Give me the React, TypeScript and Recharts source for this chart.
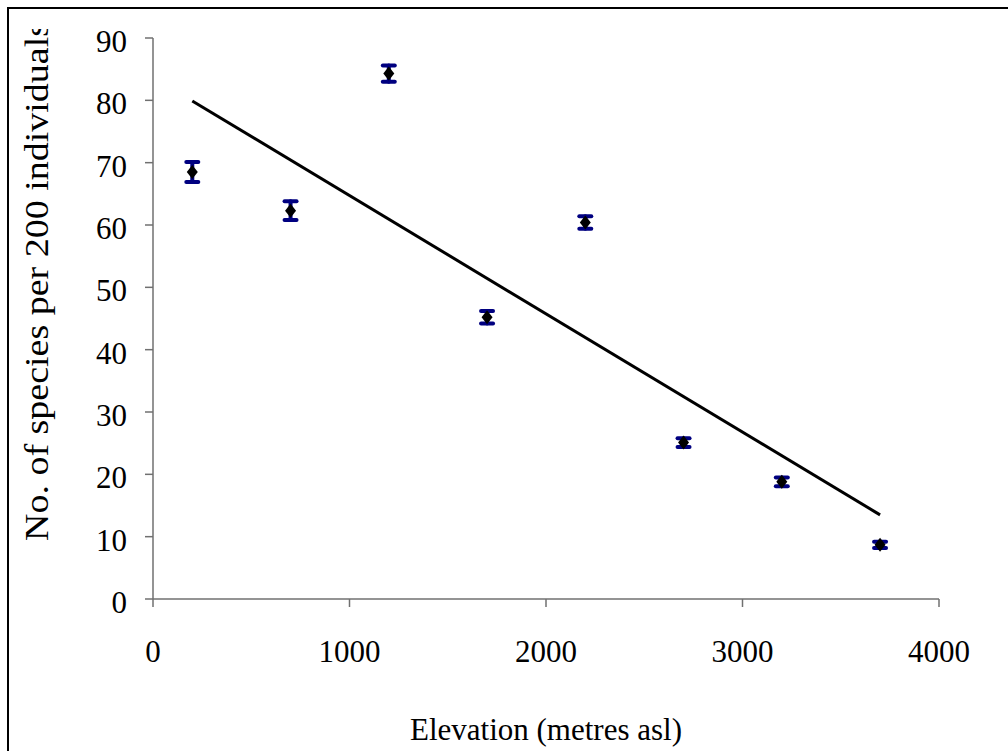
import React from "react";
import { ScatterChart, Scatter, XAxis, YAxis, ErrorBar } from "recharts";

const elevations = [200, 700, 1200, 1700, 2200, 2700, 3200, 3700];
const species = [68.5, 62.3, 84.3, 45.2, 60.4, 25.1, 18.8, 8.7];
const errors = [1.6, 1.5, 1.3, 1.0, 1.0, 0.7, 0.7, 0.5];
const trendX = [200, 3700];
const trendY = [79.9, 13.5];
const xTicks = [0, 1000, 2000, 3000, 4000];
const yTicks = [0, 10, 20, 30, 40, 50, 60, 70, 80, 90];

const points = elevations.map((x, i) => ({ x, y: species[i], err: errors[i] }));
const trend = trendX.map((x, i) => ({ x, y: trendY[i] }));

const FONT = '"Liberation Serif", "Times New Roman", serif';
const FS = 31;

const Diamond = (props: any) => {
  const { cx, cy } = props;
  if (cx == null || cy == null) return <g />;
  return (
    <polygon
      points={`${cx - 5.5},${cy} ${cx},${cy - 7} ${cx + 5.5},${cy} ${cx},${cy + 7}`}
      fill="#000"
    />
  );
};

const XTick = (props: any) => {
  const { x, y, payload } = props;
  return (
    <text x={x} y={y + 55} textAnchor="middle" fontFamily={FONT} fontSize={FS} fill="#000">
      {payload.value}
    </text>
  );
};

const YTick = (props: any) => {
  const { x, y, payload } = props;
  return (
    <text x={x} y={y + 14} textAnchor="end" fontFamily={FONT} fontSize={FS} fill="#000">
      {payload.value}
    </text>
  );
};

const XTitle = (props: any) => {
  const vb = props.viewBox || {};
  return (
    <text x={vb.x + vb.width / 2} y={740} textAnchor="middle" fontFamily={FONT} fontSize={FS} fill="#000">
      Elevation (metres asl)
    </text>
  );
};

const YTitle = () => {
  const px = 48;
  const py = 541;
  return (
    <g>
      <defs>
        <clipPath id="ytitleclip">
          <rect x={0} y={29} width={150} height={700} />
        </clipPath>
      </defs>
      <g clipPath="url(#ytitleclip)">
        <text
          x={0}
          y={0}
          transform={`translate(${px}, ${py}) rotate(-90) scale(1, 0.86)`}
          textAnchor="start"
          fontFamily={FONT}
          fontSize={38}
          fill="#000"
        >
          No. of species per 200 individuals
        </text>
      </g>
    </g>
  );
};

export default function App() {
  return (
    <div style={{ position: "fixed", left: 0, top: 0, width: 1008, height: 751, overflow: "hidden", background: "#fff" }}>
      <div
        style={{
          position: "absolute",
          left: 7,
          top: 7,
          width: 1100,
          height: 900,
          border: "2px solid #000",
        }}
      />
      <div style={{ position: "absolute", left: 0, top: 0 }}>
        <ScatterChart width={1008} height={751} margin={{ top: 38, right: 69, bottom: 0, left: 53 }}>
          <XAxis
            type="number"
            dataKey="x"
            domain={[0, 4000]}
            ticks={xTicks}
            interval={0}
            height={152}
            tickSize={8}
            tickMargin={0}
            stroke="#707070"
            strokeWidth={1.5}
            tick={<XTick />}
            label={<XTitle />}
          />
          <YAxis
            type="number"
            dataKey="y"
            domain={[0, 90]}
            ticks={yTicks}
            interval={0}
            width={100}
            tickSize={8}
            tickMargin={18}
            stroke="#707070"
            strokeWidth={1.5}
            tick={<YTick />}
            label={<YTitle />}
          />
          <Scatter
            data={trend}
            line={{ stroke: "#000", strokeWidth: 3 }}
            lineType="joint"
            shape={() => <g />}
            isAnimationActive={false}
          />
          <Scatter data={points} shape={<Diamond />} isAnimationActive={false}>
            <ErrorBar
              dataKey="err"
              direction="y"
              width={6}
              stroke="#000080"
              strokeWidth={4}
              strokeLinecap="round"
            />
          </Scatter>
        </ScatterChart>
      </div>
    </div>
  );
}
